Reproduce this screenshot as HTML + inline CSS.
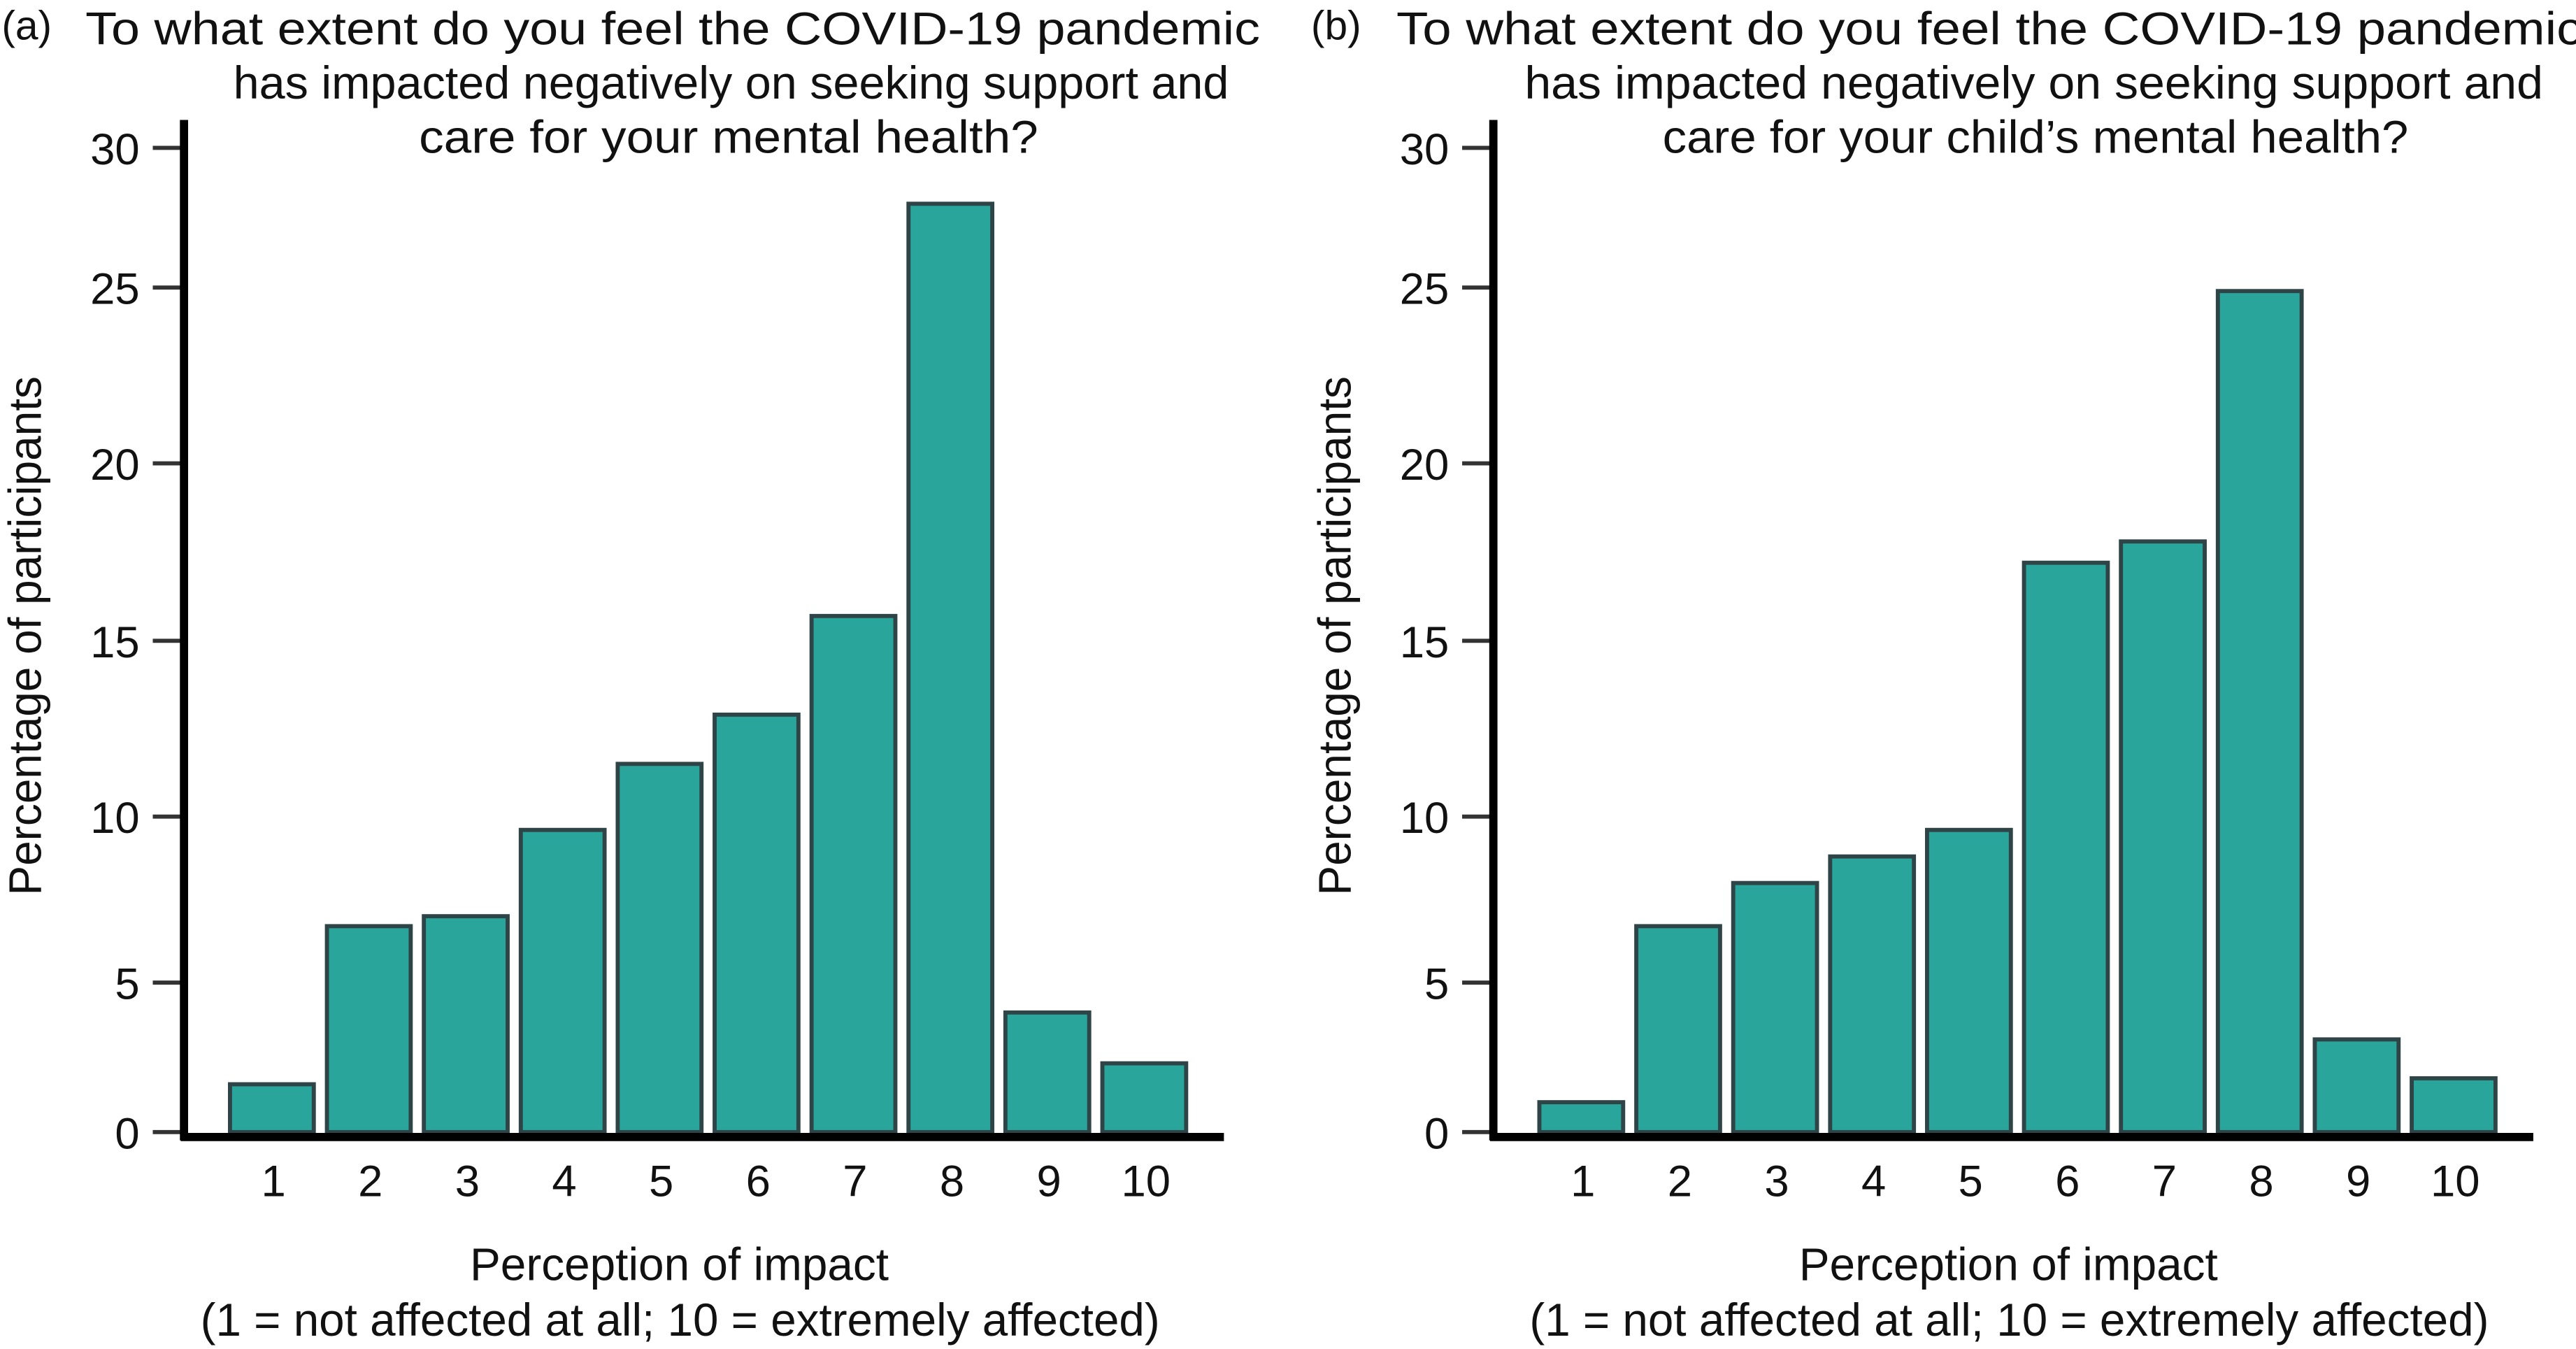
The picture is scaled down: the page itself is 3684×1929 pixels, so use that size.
<!DOCTYPE html>
<html><head><meta charset="utf-8"><style>
html,body{margin:0;padding:0;background:#fff}
svg{display:block}
text{font-family:"Liberation Sans","DejaVu Sans",sans-serif;fill:#111}
</style></head><body>
<svg id="chart" width="3684" height="1929" viewBox="0 0 1568 821" preserveAspectRatio="none" xmlns="http://www.w3.org/2000/svg"></svg>
<script>
const categories = ["1","2","3","4","5","6","7","8","9","10"];
const valuesA = [1.6, 6.7, 7.0, 9.6, 11.5, 12.9, 15.7, 28.0, 4.0, 2.3];
const valuesB = [1.0, 6.7, 8.0, 8.8, 9.6, 17.2, 17.8, 24.9, 3.1, 1.8];
const yTicks = [0, 5, 10, 15, 20, 25, 30];
const titleA = ["To what extent do you feel the COVID-19 pandemic","has impacted negatively on seeking support and","care for your mental health?"];
const titleB = ["To what extent do you feel the COVID-19 pandemic","has impacted negatively on seeking support and","care for your child\u2019s mental health?"];

const svg = document.getElementById('chart');
const NS = 'http://www.w3.org/2000/svg';
function mk(tag, attrs, parent){const e=document.createElementNS(NS,tag);for(const k in attrs)e.setAttribute(k,attrs[k]);(parent||svg).appendChild(e);return e;}

// the printed axis is not evenly spaced; map via tick pixel anchors
const tickPix = [689, 598, 497, 390, 282, 175, 90];
function y(v){
  for(let i=0;i<yTicks.length-1;i++){
    if(v<=yTicks[i+1]||i===yTicks.length-2){
      const t=(v-yTicks[i])/(yTicks[i+1]-yTicks[i]);
      return tickPix[i]+t*(tickPix[i+1]-tickPix[i]);
    }
  }
}

function panel(ox, values, title, letter, key, tspans, bx){
  const g = mk('g',{});
  
  
  const axisX = ox+112, y0 = 689;
  const step = 59, first = ox+165.5, bw = 51;
  const x = i => first + i*step;
  const lab = mk('text',{x:ox+1,y:24,'font-size':25},g); lab.textContent='('+letter+')';
  
  
  title.forEach((t,i)=>{
    const s=tspans[i];
    const tt = mk('text',{x:ox+s[0],y:27+i*33,'font-size':28,textLength:s[1]-s[0],lengthAdjust:'spacingAndGlyphs'},g);
    tt.textContent=t;
    
    
  });
  yTicks.forEach(v=>{
    const l = mk('line',{x1:ox+93,x2:axisX,y1:y(v),y2:y(v),stroke:'#333','stroke-width':2.5},g);
    
    
    const t = mk('text',{x:ox+85,y:y(v)+10,'font-size':27,'text-anchor':'end'},g);
    t.textContent=v;
    
    
  });
  values.forEach((v,i)=>{
    const r = mk('rect',{x:x(i)-bw/2,y:y(v),width:bw,height:y0-y(v),fill:'#2aa59b',stroke:'#2e4447','stroke-width':2.5},g);
    
    
    const t = mk('text',{x:x(i)+1,y:728,'font-size':27,'text-anchor':'middle'},g);
    t.textContent=categories[i];
    
    
  });
  const ya = mk('line',{x1:axisX,x2:axisX,y1:73,y2:694,stroke:'#000','stroke-width':5},g);
  
  
  const xa = mk('line',{x1:axisX-2,x2:ox+745,y1:692,y2:692,stroke:'#000','stroke-width':5},g);
  
  
  const yt = mk('text',{x:0,y:0,'font-size':28,'text-anchor':'middle',textLength:316,lengthAdjust:'spacingAndGlyphs',transform:'translate('+(ox+25)+',387) rotate(-90)'},g);
  yt.textContent='Percentage of participants';
  
  
  const x1 = mk('text',{x:ox+286+bx,y:779,'font-size':28,textLength:255,lengthAdjust:'spacingAndGlyphs'},g);
  x1.textContent='Perception of impact';
  
  
  const x2 = mk('text',{x:ox+122+bx,y:813,'font-size':28,textLength:584,lengthAdjust:'spacingAndGlyphs'},g);
  x2.textContent='(1 = not affected at all; 10 = extremely affected)';
  
  
}
panel(0, valuesA, titleA, 'a', 'a', [[52,767],[142,748],[255,632]], 0);
panel(797, valuesB, titleB, 'b', 'b', [[53,775],[131,751],[215,669]], 12);
</script>
</body></html>
